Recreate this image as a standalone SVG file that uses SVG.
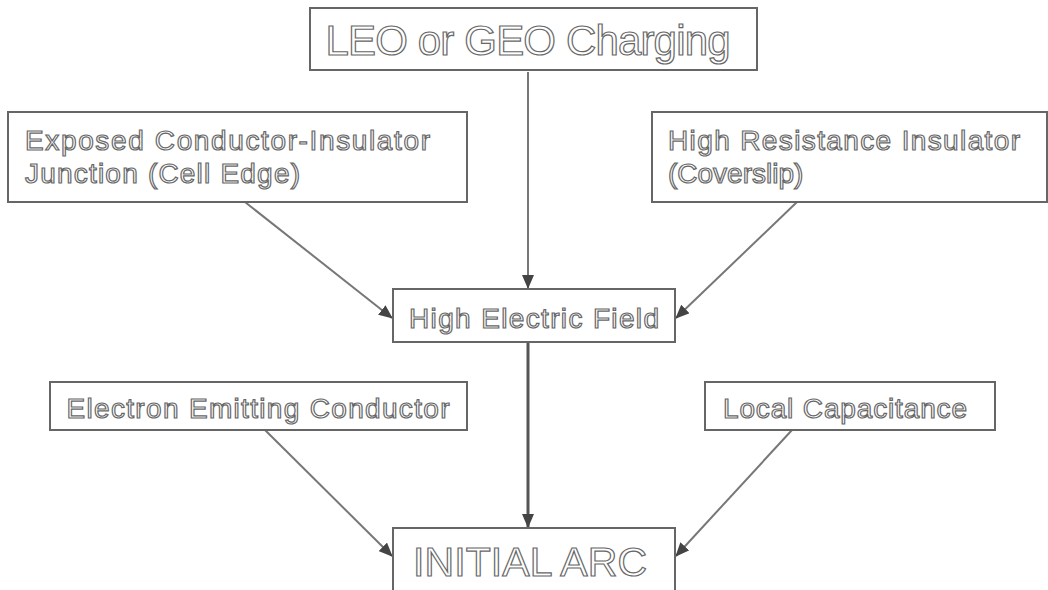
<svg xmlns="http://www.w3.org/2000/svg" width="1048" height="590" viewBox="0 0 1048 590">
<defs>
<style>
.box{fill:#fff;stroke:#666;stroke-width:2}
.t{font-family:"Liberation Sans",Arial,sans-serif;fill:#fff;stroke:#666;stroke-width:1.2;opacity:0.99}
.c{stroke:#777;stroke-width:2;fill:none}
.c2{stroke:#555;stroke-width:3;fill:none}
</style>
<marker id="ah" markerWidth="14" markerHeight="12" refX="13" refY="6" orient="auto" markerUnits="userSpaceOnUse">
<path d="M0,0 L14,6 L0,12 Z" fill="#444"/>
</marker>
</defs>
<rect width="1048" height="590" fill="#fff"/>
<g id="connectors">
<line class="c" x1="528" y1="72" x2="528" y2="288" marker-end="url(#ah)"/>
<line class="c" x1="245" y1="202" x2="392" y2="318" marker-end="url(#ah)"/>
<line class="c" x1="797" y1="202" x2="676" y2="318" marker-end="url(#ah)"/>
<line class="c2" x1="528" y1="342" x2="528" y2="527" marker-end="url(#ah)"/>
<line class="c" x1="265" y1="430" x2="392" y2="556" marker-end="url(#ah)"/>
<line class="c" x1="792" y1="430" x2="676" y2="556" marker-end="url(#ah)"/>
</g>
<g id="leo">
<rect class="box" x="310" y="8" width="447" height="62"/>
<text class="t" x="528" y="55" font-size="42" text-anchor="middle" textLength="405" lengthAdjust="spacing">LEO or GEO Charging</text>
</g>
<g id="exposed">
<rect class="box" x="8" y="112" width="459" height="90"/>
<text class="t" x="25" y="150" font-size="28" textLength="405" lengthAdjust="spacing">Exposed Conductor-Insulator</text>
<text class="t" x="25" y="183" font-size="28" textLength="275" lengthAdjust="spacing">Junction (Cell Edge)</text>
</g>
<g id="highres">
<rect class="box" x="652" y="112" width="395" height="90"/>
<text class="t" x="668" y="150" font-size="28" textLength="352" lengthAdjust="spacing">High Resistance Insulator</text>
<text class="t" x="668" y="183" font-size="28">(Coverslip)</text>
</g>
<g id="field">
<rect class="box" x="393" y="289" width="282" height="53"/>
<text class="t" x="534" y="328" font-size="28" text-anchor="middle" textLength="250" lengthAdjust="spacing">High Electric Field</text>
</g>
<g id="electron">
<rect class="box" x="50" y="382" width="417" height="48"/>
<text class="t" x="258" y="418" font-size="28" text-anchor="middle" textLength="383" lengthAdjust="spacing">Electron Emitting Conductor</text>
</g>
<g id="capacitance">
<rect class="box" x="705" y="382" width="290" height="48"/>
<text class="t" x="845" y="418" font-size="28" text-anchor="middle" textLength="244" lengthAdjust="spacing">Local Capacitance</text>
</g>
<g id="arc">
<path class="box" d="M393,592 L393,528 L675,528 L675,592"/>
<text class="t" x="530" y="576" font-size="41" text-anchor="middle" textLength="234" lengthAdjust="spacing">INITIAL ARC</text>
</g>
</svg>
